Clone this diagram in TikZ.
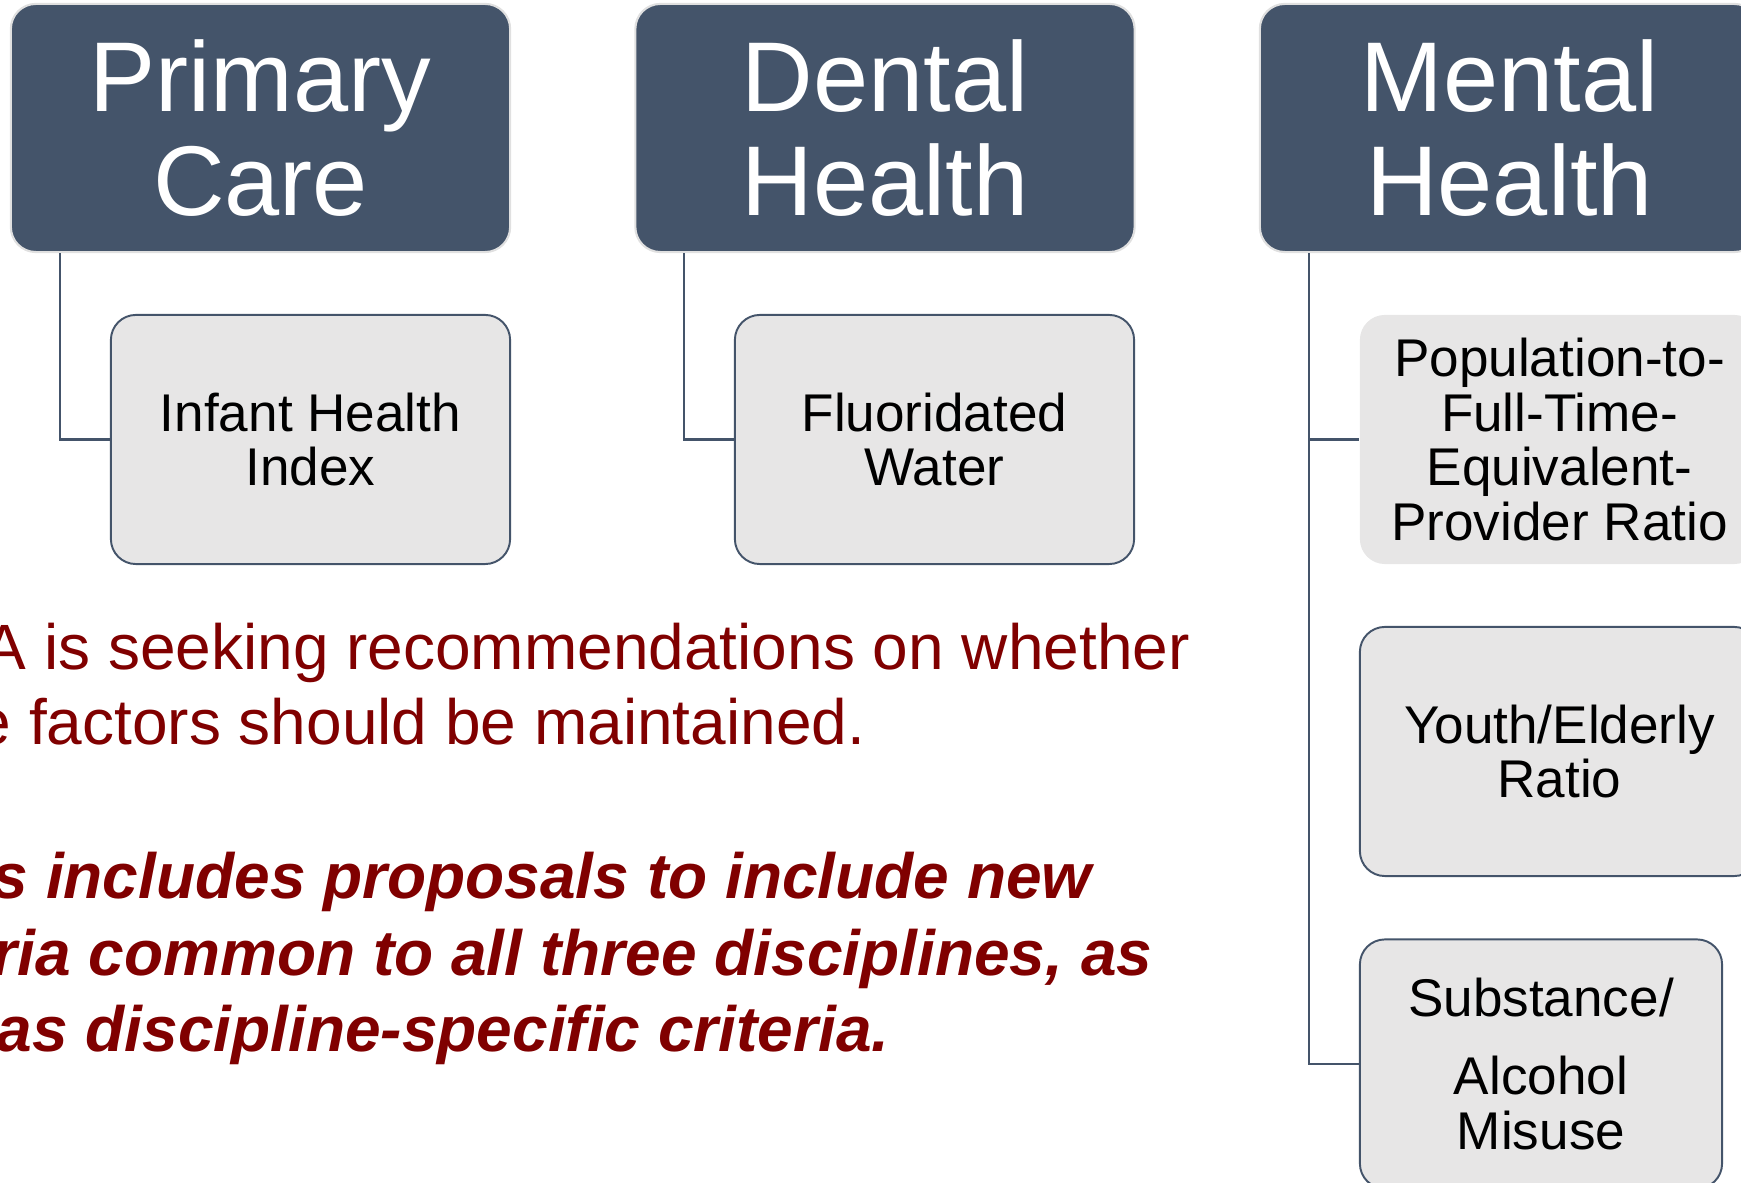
\documentclass[tikz,border=0pt]{standalone}
\usepackage{fontspec}
\setmainfont{Liberation Sans}
\usepackage{tikz}
\usepackage{color}
\definecolor{slate}{RGB}{68,84,106}
\definecolor{paper}{RGB}{231,230,230}
\definecolor{wine}{RGB}{128,0,0}
\tikzset{
  head/.style={rectangle, rounded corners=0.25cm, fill=slate, draw=black!12, line width=0.6pt,
    text=white, inner sep=0pt, minimum width=4.99cm, minimum height=2.48cm, align=center,
    font=\fontsize{28.2pt}{29.6pt}\selectfont},
  leaf/.style={rectangle, rounded corners=0.25cm, fill=paper, draw=slate, line width=0.55pt,
    text=black, inner sep=0pt, minimum width=3.99cm, minimum height=2.49cm, align=center,
    font=\fontsize{15.1pt}{15.5pt}\selectfont},
  conn/.style={draw=slate, line width=0.6pt},
  ask/.style={anchor=base west, inner sep=0pt, text=wine, font=\fontsize{18.2pt}{21.9pt}\selectfont},
  note/.style={ask, font=\fontsize{18.2pt}{21.9pt}\selectfont\bfseries\itshape}
}

\begin{document}
\begin{tikzpicture}[x=0.01cm, y=-0.01cm]
				\path[use as bounding box, clip] (0,0) rectangle (1741,1183);
				
				\node[head] (pc) at (260.5, 128) {Primary\\Care};
				\node[head] (dh) at (885, 128) {Dental\\Health};
				\node[head] (mh) at (1509.5, 128) {Mental\\Health};
				
				\node[leaf] (ihi) at (310.5, 439.5) {Infant Health\\Index};
				\node[leaf] (fw) at (934.5, 439.5) {Fluoridated\\Water};
				
				\node[leaf, draw=none] (pfr) at (1559.5, 439.5) {Population-to-\\Full-Time-\\Equivalent-\\Provider Ratio};
				\node[leaf] (yer) at (1559.5, 751.5) {Youth/Elderly\\Ratio};
				\node[leaf, minimum width=3.62cm] (sam) at (1541, 1064) {Substance/\\[0.24cm]Alcohol\\Misuse};
				
				\draw[conn] ([xshift=0.5cm]pc.south west) |- (ihi.west);
				\draw[conn] ([xshift=0.5cm]dh.south west) |- (fw.west);
				\draw[conn] ([xshift=0.5cm]mh.south west) |- (pfr.west);
				\draw[conn] ([xshift=0.5cm]mh.south west) |- (sam.west);
				
				\node[ask] (ask1) at (-17, 670) {A is seeking recommendations on whether};
				\node[ask] (ask2) at (-25, 745) {e factors should be maintained.};
				
				\node[note] (note1) at (-8, 899) {s includes proposals to include new};
				\node[note] (note2) at (-8, 976) {ria common to all three disciplines, as};
				\node[note] (note3) at (-4, 1052) {as discipline-specific criteria.};
			\end{tikzpicture}
\end{document}
